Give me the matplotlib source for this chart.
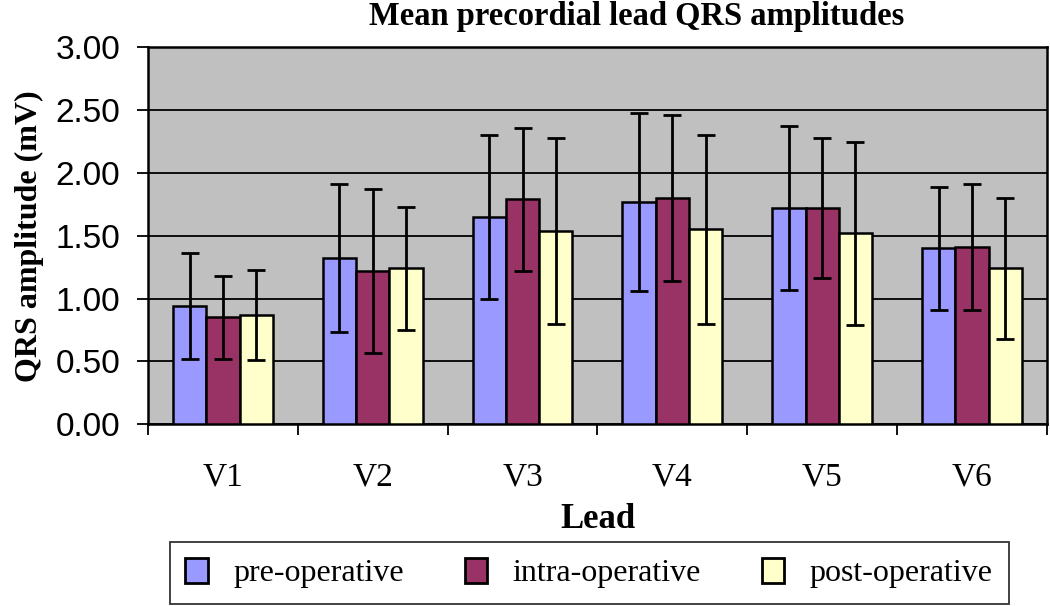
import matplotlib
matplotlib.use("Agg")
import matplotlib.pyplot as plt
import numpy as np

leads = ["V1", "V2", "V3", "V4", "V5", "V6"]
series_names = ["pre-operative", "intra-operative", "post-operative"]

pre_mean = [0.94, 1.32, 1.65, 1.77, 1.72, 1.40]
intra_mean = [0.85, 1.22, 1.79, 1.80, 1.72, 1.41]
post_mean = [0.87, 1.24, 1.54, 1.55, 1.52, 1.24]

pre_sd = [0.42, 0.59, 0.65, 0.71, 0.65, 0.49]
intra_sd = [0.33, 0.65, 0.57, 0.66, 0.56, 0.50]
post_sd = [0.36, 0.49, 0.74, 0.75, 0.73, 0.56]

colors = ["#9999FF", "#993366", "#FFFFCC"]

serif = ["Liberation Serif", "DejaVu Serif"]
sans = ["Liberation Sans", "DejaVu Sans"]

fig = plt.figure(figsize=(10.5, 6.06), dpi=100)
ax = fig.add_axes([0.141, 0.3, 0.856, 0.622])

x = np.arange(len(leads))
width = 0.222
means = [pre_mean, intra_mean, post_mean]
sds = [pre_sd, intra_sd, post_sd]
for i in range(3):
    ax.bar(x + (i - 1) * width, means[i], width, color=colors[i], edgecolor="black",
           linewidth=1.8, label=series_names[i], zorder=3)
    ax.errorbar(x + (i - 1) * width, means[i], yerr=sds[i], fmt="none", ecolor="black",
                elinewidth=2.0, capsize=6.5, capthick=2.0, zorder=4)

ax.set_facecolor("#C0C0C0")
ax.set_xlim(-0.5, len(leads) - 0.5)
ax.set_ylim(0, 3)
yt = np.arange(0, 3.01, 0.5)
ax.set_yticks(yt)
ax.set_yticklabels([f"{v:.2f}" for v in yt], family=sans, fontsize=24)
ax.yaxis.grid(True, color="black", linewidth=1.3, zorder=0)
ax.set_axisbelow(True)

ax.set_xticks(x)
ax.set_xticklabels(leads, family=serif, fontsize=24)
ax.tick_params(axis="x", which="major", length=0, pad=27)
ax.set_xticks(np.arange(-0.5, len(leads), 1), minor=True)
ax.tick_params(axis="x", which="minor", length=8, width=1.3, direction="out")
ax.tick_params(axis="y", length=8, width=1.3, direction="out", pad=12)

for s in ax.spines.values():
    s.set_linewidth(1.8)
    s.set_color("black")

fig.text(0.606, 0.998, "Mean precordial lead QRS amplitudes", family=serif, fontsize=23.5,
         fontweight="bold", ha="center", va="top")
ax.set_xlabel("Lead", family=serif, fontsize=25, fontweight="bold", labelpad=8)
ax.set_ylabel("QRS amplitude (mV)", family=serif, fontsize=23, fontweight="bold", labelpad=8)

leg = fig.legend(loc="lower center", bbox_to_anchor=(0.561, 0.0), ncol=3,
                 prop={"family": serif, "size": 23}, frameon=True, fancybox=False,
                 edgecolor="black", handlelength=0.7, handleheight=0.8,
                 columnspacing=1.9, handletextpad=0.8, borderpad=0.5, borderaxespad=0.05)
leg.get_frame().set_linewidth(1.3)
for h in leg.legend_handles:
    h.set_linewidth(2.0)

fig.savefig("out.png", dpi=100)
